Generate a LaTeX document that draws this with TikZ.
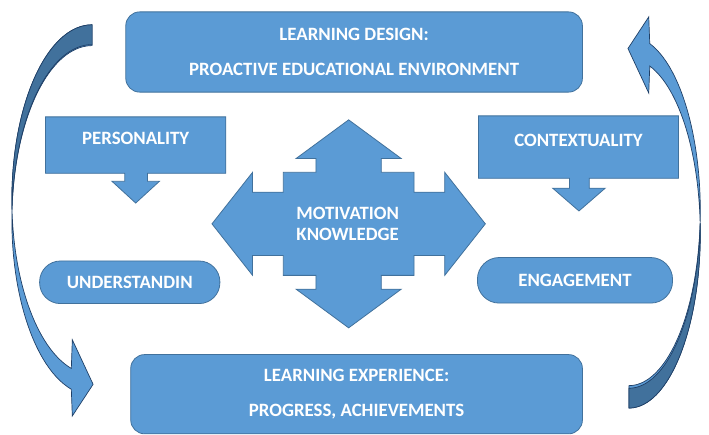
\documentclass[tikz,border=0pt]{standalone}
\usepackage{fontspec}
\setmainfont{Carlito}
\definecolor{boxblue}{HTML}{5B9BD5}
\definecolor{boxline}{HTML}{41719C}
\definecolor{backblue}{HTML}{41719C}
\definecolor{arrline}{HTML}{1F3F66}
\begin{document}
\begin{tikzpicture}[x=1pt,y=1pt]
	\tikzstyle{every node}+=[inner sep=0pt]
	\tikzstyle{blk}=[fill=boxblue, draw=boxline, line width=0.8pt]
	\tikzstyle{band}=[fill=boxblue, draw=arrline, line width=0.7pt]
	\tikzstyle{lbl}=[text=white, font=\fontsize{19}{35}\selectfont\bfseries, align=center]
	\fill [white] (0,0) rectangle (709,-437);
	% top and bottom boxes
	\node (design) [blk, lbl, rounded corners=14pt, minimum width=461pt, minimum height=81pt] at (357.5,-52.5) {LEARNING DESIGN:\\PROACTIVE EDUCATIONAL ENVIRONMENT};
	\node (experience) [blk, lbl, rounded corners=14pt, minimum width=456pt, minimum height=80pt] at (360,-398) {LEARNING EXPERIENCE:\\PROGRESS, ACHIEVEMENTS};
	% callouts
	\draw [blk] (46,-118) -- (228,-118) -- (228,-175) -- (149,-175) -- (149,-183) -- (161,-183) -- (137,-205) -- (113,-183) -- (126,-183) -- (126,-175) -- (46,-175) -- cycle;
	\node (personality) [lbl] at (137,-140) {PERSONALITY};
	\draw [blk] (483,-117) -- (685,-117) -- (685,-180) -- (595,-180) -- (595,-190) -- (611,-190) -- (584.5,-213) -- (558,-190) -- (575,-190) -- (575,-180) -- (483,-180) -- cycle;
	\node (context) [lbl] at (584,-142) {CONTEXTUALITY};
	% rounded labels
	\node (understand) [blk, lbl, rounded corners=21pt, minimum width=182pt, minimum height=43pt] at (131,-285) {UNDERSTANDIN};
	\node (engage) [blk, lbl, rounded corners=22pt, minimum width=197pt, minimum height=46pt] at (580.5,-283) {ENGAGEMENT};
	% four-way arrow
	\draw [blk, shift={(352,-226)}] (0,105) -- (53,66) -- (33,66) -- (33,52) -- (66,52) -- (66,32) -- (97,32) -- (97,52) -- (138,0) -- (97,-52) -- (97,-32) -- (66,-32) -- (66,-52) -- (33,-52) -- (33,-66) -- (53,-66) -- (0,-105) -- (-53,-66) -- (-33,-66) -- (-33,-52) -- (-66,-52) -- (-66,-32) -- (-97,-32) -- (-97,-52) -- (-138,0) -- (-97,52) -- (-97,32) -- (-66,32) -- (-66,52) -- (-33,52) -- (-33,66) -- (-53,66) -- cycle;
	\node (motiv) [lbl, font=\fontsize{19}{22}\selectfont\bfseries] at (351,-226) {MOTIVATION\\KNOWLEDGE};
	% curved arrow, left
	\begin{scope}[shift={(93,-25)}]
	\draw [band] (0,0) arc[start angle=90, end angle={180+acos(21/81)}, x radius=81, y radius=176.5] -- (-20,-318) -- (1,-363) -- (-20,-395) -- (-21,-368) arc[start angle={180+acos(21/81)}, end angle=90, x radius=81, y radius=176.5] -- cycle;
	\draw [band, fill=backblue] (0,0) arc[start angle=90, end angle=183.25, x radius=81, y radius=176.5] arc[start angle=176.75, end angle=90, x radius=81, y radius=176.5] -- cycle;
	\end{scope}
	% curved arrow, right
	\begin{scope}[shift={(635,-412)}, rotate=180]
	\draw [band] (0,0) arc[start angle=90, end angle={180+acos(21/72)}, x radius=72, y radius=176.5] -- (-20,-318) -- (1,-363) -- (-20,-395) -- (-21,-368) arc[start angle={180+acos(21/72)}, end angle=90, x radius=72, y radius=176.5] -- cycle;
	\draw [band, fill=backblue] (0,0) arc[start angle=90, end angle=183.25, x radius=72, y radius=176.5] arc[start angle=176.75, end angle=90, x radius=72, y radius=176.5] -- cycle;
	\end{scope}
\end{tikzpicture}
\end{document}
